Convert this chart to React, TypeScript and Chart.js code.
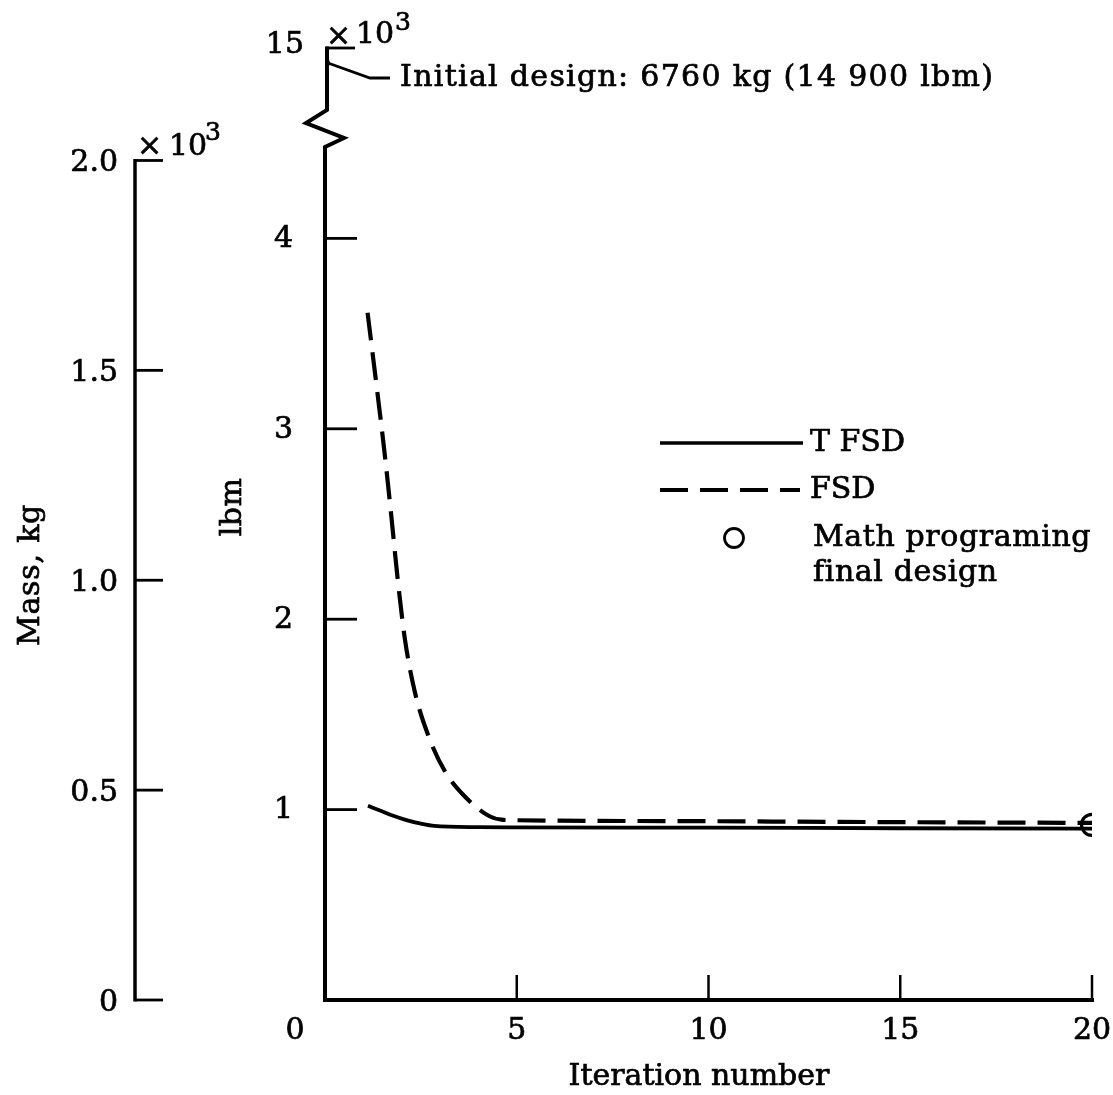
import React, { useEffect, useRef } from "react";
import { Chart, registerables } from "chart.js";

Chart.register(...registerables);

// ---- data (mass in lbm x 10^3, iteration number) ----
const tfsdIteration = [1.12, 1.5, 1.8, 2.1, 2.5, 2.85, 4, 5, 10, 15, 20];
const tfsdLbm = [1.02, 0.99, 0.966, 0.946, 0.926, 0.914, 0.908, 0.907, 0.905, 0.902, 0.9];
const fsdIteration = [1.11, 1.36, 1.55, 1.73, 1.89, 2.08, 2.34, 2.71, 3.13, 3.64, 4.29, 4.6, 5, 10, 15, 20];
const fsdLbm = [3.61, 3.2, 2.88, 2.54, 2.22, 1.9, 1.62, 1.38, 1.2, 1.07, 0.965, 0.947, 0.944, 0.939, 0.934, 0.93];
const mathIteration = [20];
const mathLbm = [0.92];
const initialIteration = [0];
const initialLbm = [14.9];

const xTickValues = [0, 5, 10, 15, 20];
const xTickLabels = ["0", "5", "10", "15", "20"];
const lbmTickValues = [1, 2, 3, 4];
const lbmTickLabels = ["1", "2", "3", "4"];
const lbmBreakTop = 15;
const lbmBreakTopLabel = "15";
const kgTickValues = [0, 0.5, 1.0, 1.5, 2.0];
const kgTickLabels = ["0", "0.5", "1.0", "1.5", "2.0"];
const KG_PER_LBM = 0.45359;

const legendLabels = ["T FSD", "FSD", "Math programing", "final design"];
const initialNote = "Initial design: 6760 kg (14 900 lbm)";

const FONT = "'DejaVu Serif', 'Liberation Serif', serif";
const FS = 30;

function txt(ctx: any, s: string, x: number, y: number, spacing = 0) {
  ctx.letterSpacing = `${spacing}px`;
  ctx.lineWidth = 0.7;
  ctx.fillText(s, x, y);
  ctx.strokeText(s, x, y);
  ctx.letterSpacing = "0px";
}

const decorations = {
  id: "decorations",
  afterDraw(chart: any) {
    const { ctx, scales } = chart;
    const x = scales.x;
    const y = scales.y;
    const yKg = scales.yKg;
    const yTop = scales.yTop;
    ctx.save();
    ctx.strokeStyle = "#000";
    ctx.fillStyle = "#000";
    ctx.lineCap = "butt";
    ctx.lineJoin = "miter";

    const x0 = x.getPixelForValue(0);
    const xEnd = x.getPixelForValue(20);
    const yBase = y.getPixelForValue(0);
    const yTopPx = yTop.getPixelForValue(lbmBreakTop);

    // x axis
    ctx.lineWidth = 4;
    ctx.beginPath();
    ctx.moveTo(x0 - 2, yBase);
    ctx.lineTo(xEnd + 2, yBase);
    ctx.stroke();
    ctx.lineWidth = 2.5;
    xTickValues.forEach((t) => {
      if (t === 0) return;
      const px = x.getPixelForValue(t);
      ctx.beginPath();
      ctx.moveTo(px, yBase);
      ctx.lineTo(px, yBase - 25);
      ctx.stroke();
    });

    // main y axis with break
    const breakLow = y.getPixelForValue(4.48);
    ctx.lineWidth = 4;
    ctx.beginPath();
    ctx.moveTo(x0, yBase + 2);
    ctx.lineTo(x0, breakLow);
    ctx.lineTo(x0 + 19, breakLow - 9);
    ctx.lineTo(x0 - 19, breakLow - 24);
    ctx.lineTo(x0 + 2, breakLow - 37);
    ctx.lineTo(x0 + 2, yTopPx - 1.5);
    ctx.stroke();
    ctx.lineWidth = 2.8;
    lbmTickValues.forEach((t) => {
      const py = y.getPixelForValue(t);
      ctx.beginPath();
      ctx.moveTo(x0, py);
      ctx.lineTo(x0 + 32, py);
      ctx.stroke();
    });
    ctx.beginPath();
    ctx.moveTo(x0 + 1, yTopPx);
    ctx.lineTo(x0 + 30, yTopPx);
    ctx.stroke();

    // kg axis
    const kgX = 135;
    const kgTop = yKg.getPixelForValue(2.0);
    ctx.lineWidth = 3.5;
    ctx.beginPath();
    ctx.moveTo(kgX, yBase + 1.5);
    ctx.lineTo(kgX, kgTop - 1.5);
    ctx.stroke();
    ctx.lineWidth = 2.8;
    kgTickValues.forEach((t) => {
      const py = yKg.getPixelForValue(t);
      ctx.beginPath();
      ctx.moveTo(kgX, py);
      ctx.lineTo(kgX + 28, py);
      ctx.stroke();
    });

    // text
    ctx.font = `${FS}px ${FONT}`;
    ctx.textBaseline = "middle";
    ctx.textAlign = "center";
    xTickValues.forEach((t, i) => {
      const px = t === 0 ? x0 - 30 : x.getPixelForValue(t);
      txt(ctx, xTickLabels[i], px, yBase + 31);
    });
    txt(ctx, "Iteration number", 699, 1077, 0);

    ctx.textAlign = "right";
    lbmTickValues.forEach((t, i) => {
      txt(ctx, lbmTickLabels[i], 293, y.getPixelForValue(t) + 1);
    });
    txt(ctx, lbmBreakTopLabel, 304, yTopPx - 3);
    kgTickValues.forEach((t, i) => {
      txt(ctx, kgTickLabels[i], 118, yKg.getPixelForValue(t) + 3);
    });

    // x 10^3 multipliers
    ctx.textAlign = "left";
    ctx.textBaseline = "alphabetic";
    txt(ctx, "\u00d7", x0 + 1, yTopPx - 3);
    txt(ctx, "10", x0 + 31, yTopPx - 5);
    txt(ctx, "\u00d7", kgX + 2, kgTop - 5);
    txt(ctx, "10", kgX + 34, kgTop - 5);
    ctx.font = `${FS - 5}px ${FONT}`;
    txt(ctx, "3", x0 + 70, yTopPx - 18);
    txt(ctx, "3", kgX + 70, kgTop - 20);

    // axis titles
    ctx.font = `${FS}px ${FONT}`;
    ctx.textAlign = "center";
    ctx.textBaseline = "middle";
    ctx.save();
    ctx.translate(233, 507);
    ctx.rotate(-Math.PI / 2);
    txt(ctx, "lbm", 0, 0, 0.5);
    ctx.restore();
    ctx.save();
    ctx.translate(31, 575);
    ctx.rotate(-Math.PI / 2);
    txt(ctx, "Mass, kg", 0, 0, 0.8);
    ctx.restore();

    // initial design note
    const ix = x.getPixelForValue(initialIteration[0]) + 3;
    const iy = yTop.getPixelForValue(initialLbm[0]);
    ctx.lineWidth = 2.8;
    ctx.beginPath();
    ctx.moveTo(ix, iy);
    ctx.lineTo(ix + 42, iy + 15);
    ctx.lineTo(ix + 62, iy + 15);
    ctx.stroke();
    ctx.textAlign = "left";
    txt(ctx, initialNote, 400, iy + 15, 1.3);

    // legend
    ctx.lineWidth = 3.5;
    ctx.beginPath();
    ctx.moveTo(660, 443);
    ctx.lineTo(803, 443);
    ctx.stroke();
    ctx.setLineDash([28, 12]);
    ctx.lineWidth = 4;
    ctx.beginPath();
    ctx.moveTo(660, 490);
    ctx.lineTo(800, 490);
    ctx.stroke();
    ctx.setLineDash([]);
    ctx.beginPath();
    ctx.arc(734, 538, 9.5, 0, Math.PI * 2);
    ctx.fillStyle = "#fff";
    ctx.fill();
    ctx.lineWidth = 2.8;
    ctx.stroke();
    ctx.fillStyle = "#000";
    txt(ctx, legendLabels[0], 810, 443, 0);
    txt(ctx, legendLabels[1], 810, 490, 0);
    txt(ctx, legendLabels[2], 813, 538, 0.6);
    txt(ctx, legendLabels[3], 813, 573, 0.6);

    ctx.restore();
  },
};

export default function App() {
  const ref = useRef<HTMLCanvasElement | null>(null);
  useEffect(() => {
    if (!ref.current) return;
    const topPxPerUnit = 150;
    const chart = new Chart(ref.current, {
      type: "line",
      data: {
        datasets: [
          {
            label: "TFSD",
            data: tfsdIteration.map((v, i) => ({ x: v, y: tfsdLbm[i] })),
            borderColor: "#000",
            borderWidth: 3.8,
            pointRadius: 0,
            cubicInterpolationMode: "monotone",
            yAxisID: "y",
          },
          {
            label: "FSD",
            data: fsdIteration.map((v, i) => ({ x: v, y: fsdLbm[i] })),
            borderColor: "#000",
            borderWidth: 4.2,
            borderDash: [28, 12],
            pointRadius: 0,
            cubicInterpolationMode: "monotone",
            yAxisID: "y",
          },
          {
            label: "Math programing final design",
            data: mathIteration.map((v, i) => ({ x: v, y: mathLbm[i] })),
            showLine: false,
            pointRadius: 10.5,
            pointBorderWidth: 3.2,
            pointBackgroundColor: "#fff",
            pointBorderColor: "#000",
            yAxisID: "y",
          },
          {
            label: "Initial design",
            data: initialIteration.map((v, i) => ({ x: v, y: initialLbm[i] })),
            showLine: false,
            pointRadius: 5,
            pointBackgroundColor: "#000",
            pointBorderColor: "#000",
            pointBorderWidth: 0,
            yAxisID: "yTop",
          },
        ],
      },
      options: {
        responsive: false,
        animation: false,
        events: [],
        layout: { padding: { left: 325, right: 21, top: 48, bottom: 95 } },
        plugins: { legend: { display: false }, tooltip: { enabled: false } },
        scales: {
          x: { type: "linear", min: 0, max: 20, display: false },
          y: { type: "linear", min: 0, max: 5, display: false },
          yKg: { type: "linear", min: 0, max: 5 * KG_PER_LBM, display: false },
          yTop: {
            type: "linear",
            min: lbmBreakTop - 952 / topPxPerUnit,
            max: lbmBreakTop,
            display: false,
          },
        },
      },
      plugins: [decorations],
    });
    return () => chart.destroy();
  }, []);
  return (
    <div style={{ position: "absolute", left: 0, top: 0, width: 1113, height: 1095, background: "#fff" }}>
      <canvas ref={ref} width={1113} height={1095} style={{ display: "block" }} />
    </div>
  );
}
